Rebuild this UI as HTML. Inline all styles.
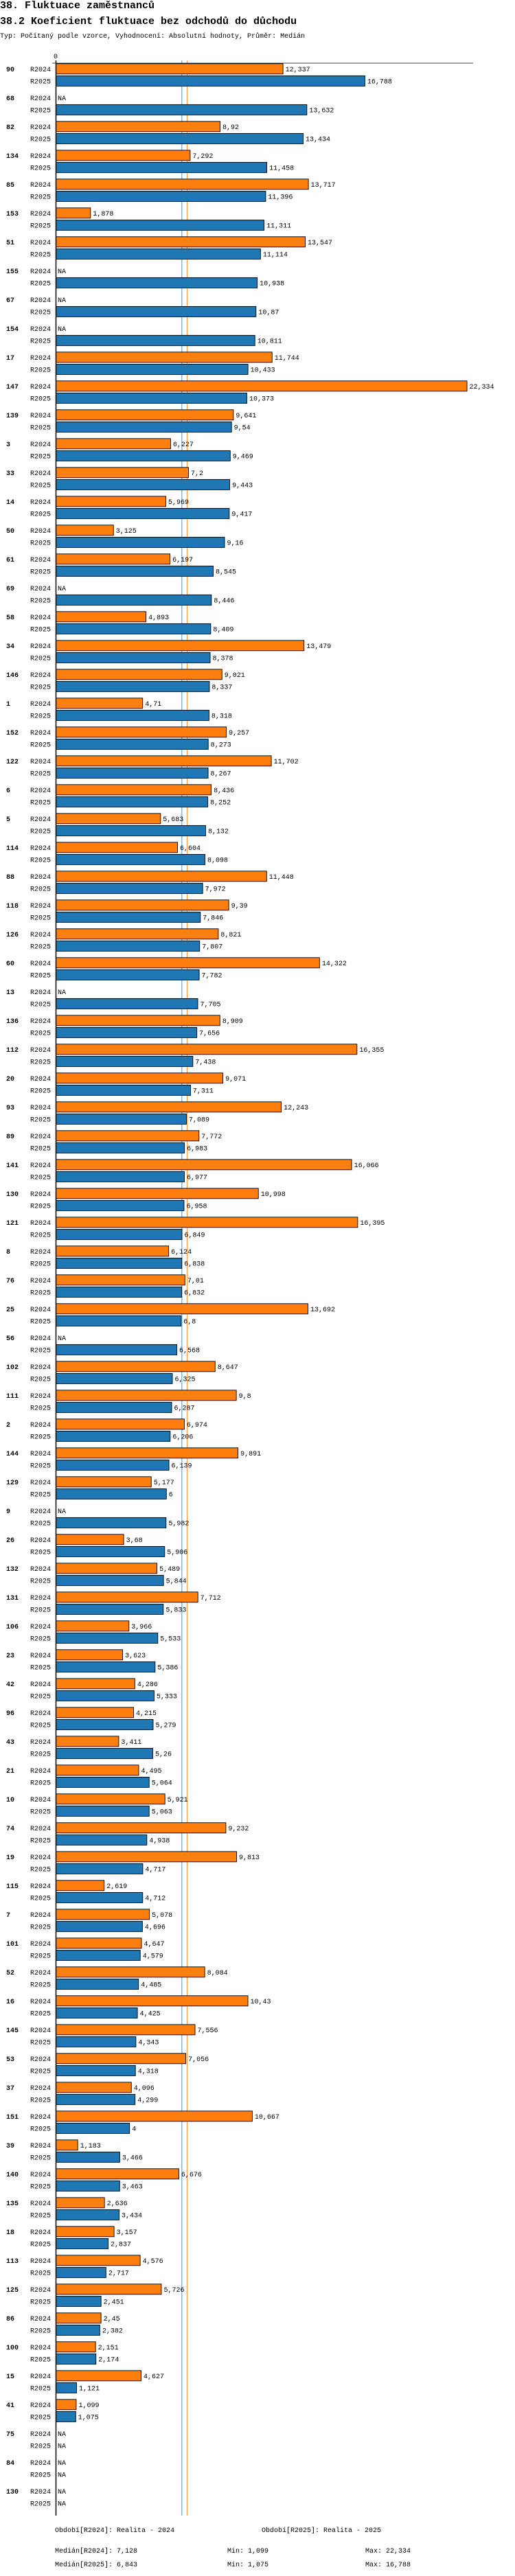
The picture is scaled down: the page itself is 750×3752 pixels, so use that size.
<!DOCTYPE html>
<html><head><meta charset="utf-8"><style>
body{margin:0;background:#fff;width:750px;height:3752px;overflow:hidden}
svg{display:block}
text{font-family:"Liberation Mono",monospace;fill:#000}
</style></head><body>
<svg id="chart" width="750" height="3752" xmlns="http://www.w3.org/2000/svg">
<text x="0" y="12" font-size="15" font-weight="bold">38. Fluktuace zaměstnanců</text>
<text x="0" y="35" font-size="15" font-weight="bold">38.2 Koeficient fluktuace bez odchodů do důchodu</text>
<text x="0" y="55" font-size="10">Typ: Počítaný podle vzorce, Vyhodnocení: Absolutní hodnoty, Průměr: Medián</text>
<text x="78" y="85" font-size="10">0</text>
<g id="bars"></g>
<text x="80" y="3688" font-size="10">Období[R2024]: Realita - 2024</text>
<text x="381" y="3688" font-size="10">Období[R2025]: Realita - 2025</text>
<text x="80" y="3718" font-size="10">Medián[R2024]: 7,128</text>
<text x="331" y="3718" font-size="10">Min: 1,099</text>
<text x="532" y="3718" font-size="10">Max: 22,334</text>
<text x="80" y="3738" font-size="10">Medián[R2025]: 6,843</text>
<text x="331" y="3738" font-size="10">Min: 1,075</text>
<text x="532" y="3738" font-size="10">Max: 16,788</text>
</svg>
<script>
const categories=["90","68","82","134","85","153","51","155","67","154","17","147","139","3","33","14","50","61","69","58","34","146","1","152","122","6","5","114","88","118","126","60","13","136","112","20","93","89","141","130","121","8","76","25","56","102","111","2","144","129","9","26","132","131","106","23","42","96","43","21","10","74","19","115","7","101","52","16","145","53","37","151","39","140","135","18","113","125","86","100","15","41","75","84","130"];
const values2024=[12.337,null,8.92,7.292,13.717,1.878,13.547,null,null,null,11.744,22.334,9.641,6.227,7.2,5.969,3.125,6.197,null,4.893,13.479,9.021,4.71,9.257,11.702,8.436,5.683,6.604,11.448,9.39,8.821,14.322,null,8.909,16.355,9.071,12.243,7.772,16.066,10.998,16.395,6.124,7.01,13.692,null,8.647,9.8,6.974,9.891,5.177,null,3.68,5.489,7.712,3.966,3.623,4.286,4.215,3.411,4.495,5.921,9.232,9.813,2.619,5.078,4.647,8.084,10.43,7.556,7.056,4.096,10.667,1.183,6.676,2.636,3.157,4.576,5.726,2.45,2.151,4.627,1.099,null,null,null];
const values2025=[16.788,13.632,13.434,11.458,11.396,11.311,11.114,10.938,10.87,10.811,10.433,10.373,9.54,9.469,9.443,9.417,9.16,8.545,8.446,8.409,8.378,8.337,8.318,8.273,8.267,8.252,8.132,8.098,7.972,7.846,7.807,7.782,7.705,7.656,7.438,7.311,7.089,6.983,6.977,6.958,6.849,6.838,6.832,6.8,6.568,6.325,6.287,6.206,6.139,6,5.982,5.906,5.844,5.833,5.533,5.386,5.333,5.279,5.26,5.064,5.063,4.938,4.717,4.712,4.696,4.579,4.485,4.425,4.343,4.318,4.299,4,3.466,3.463,3.434,2.837,2.717,2.451,2.382,2.174,1.121,1.075,null,null,null];
const medians=[7.128,6.843];
const NS="http://www.w3.org/2000/svg";
const g=document.getElementById('bars');
const X0=81.5,SCALE=26.8,TOP=92,PITCH=42;
const xs=v=>X0+v*SCALE;
function el(t,a){const e=document.createElementNS(NS,t);for(const k in a)e.setAttribute(k,a[k]);g.appendChild(e);return e;}
const fmt=v=>String(v).replace('.',',');
const bottom=TOP+categories.length*PITCH+2;
const m1=el('line',{x1:xs(medians[1]),x2:xs(medians[1]),y1:TOP-4,y2:bottom,stroke:'#1f77b4','stroke-width':0.8});


const m0=el('line',{x1:xs(medians[0]),x2:xs(medians[0]),y1:TOP-4,y2:bottom,stroke:'#ff7f0e','stroke-width':0.8});


categories.forEach((c,i)=>{
  const y0=TOP+i*PITCH;
  const t=el('text',{x:9,y:y0+12,'font-size':10,'font-weight':'bold'});t.textContent=c;
  
  
  [[values2024[i],'R2024','#ff7f0e',0.8],[values2025[i],'R2025','#1f77b4',18.4]].forEach(([v,lab,col,off])=>{
    const cy=y0+off+7.5;
    const l=el('text',{x:74,y:cy+3.5,'font-size':10,'text-anchor':'end'});l.textContent=lab;
    
    
    if(v==null){
      const n=el('text',{x:84,y:cy+3.5,'font-size':10});n.textContent='NA';
      
      
    }else{
      const r=el('rect',{x:X0,y:y0+off,width:xs(v)-X0,height:15,fill:col,stroke:'#000','stroke-width':0.9});
      
      
      const vt=el('text',{x:xs(v)+3.5,y:cy+3.5,'font-size':10});vt.textContent=fmt(v);
      
      
    }
  });
});
const ax=el('line',{x1:X0,x2:X0,y1:TOP-4,y2:bottom,stroke:'#000','stroke-width':1.5});


const tx=el('line',{x1:76,x2:689,y1:TOP,y2:TOP,stroke:'#000','stroke-width':0.8});


</script>
</body></html>
